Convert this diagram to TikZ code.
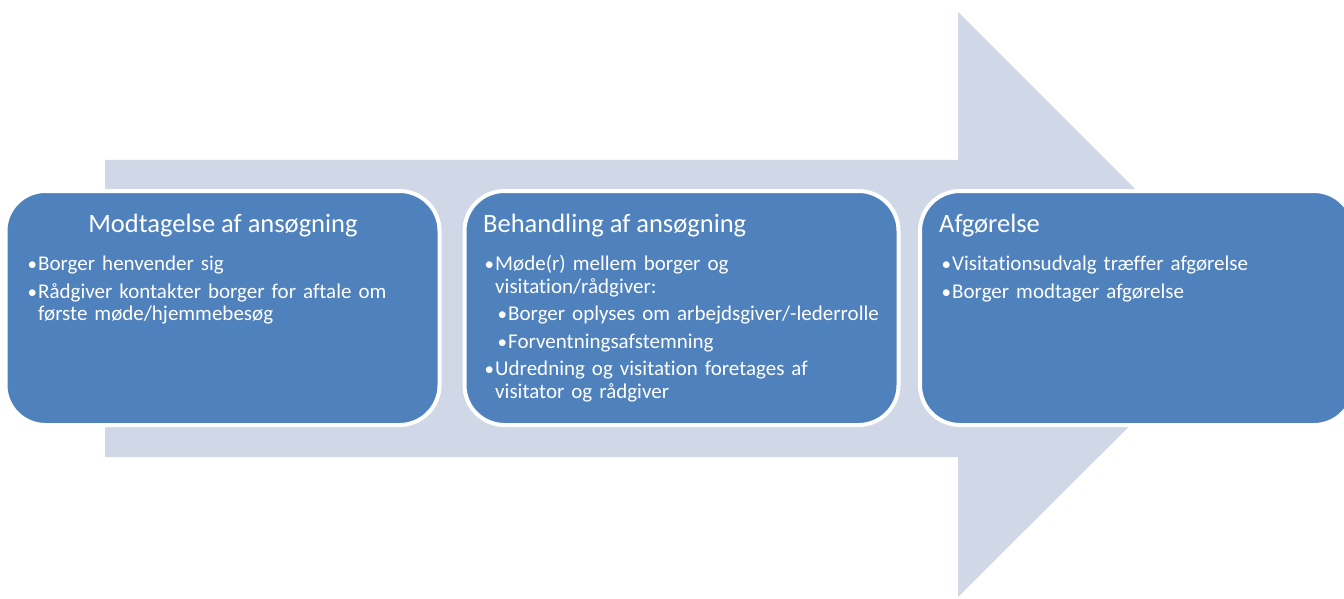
\documentclass[tikz,border=0pt]{standalone}
\usepackage{fontspec}
\setmainfont{Carlito}[Ligatures=NoCommon]
\usetikzlibrary{positioning}

\definecolor{pilblaa}{HTML}{D0D8E8}
\definecolor{kasseblaa}{HTML}{4F81BD}

\newcommand{\prik}{\makebox[11pt][l]{\hspace{0.5pt}\fontsize{19}{19}\selectfont\textbullet}}
\newcommand{\punkt}[1]{\par\leftskip=0pt\hangindent=11pt\hangafter=1\noindent\prik#1}
\newcommand{\underpunkt}[1]{\par\leftskip=13pt\hangindent=11pt\hangafter=1\noindent\prik#1}

\begin{document}
\begin{tikzpicture}[x=1pt, y=-1pt,
kasse/.style={draw=white, line width=4pt, fill=kasseblaa, rounded corners=40pt,
  inner sep=0pt, minimum width=434pt, minimum height=234pt},
titel/.style={text=white, font=\fontsize{26.5}{28}\selectfont, inner sep=0pt},
punkter/.style={text=white, font=\fontsize{21}{22.5}\selectfont, inner sep=0pt,
  text width=420pt, anchor=north west}]

    \useasboundingbox (0,0) rectangle (1344,599);

    % pilen bagved
    \fill[pilblaa] (105,160) -- (958,160) -- (958,12) -- (1251,305)
        -- (958,597) -- (958,457) -- (105,457) -- cycle;

    % kasserne
    \node[kasse] (modtag) at (222.5,308) {};
    \node[kasse] (behandl) at (681.5,308) {};
    \node[kasse] (afgoer) at (1137,308) {};

    \node[titel, anchor=base] (modtagT) at (223,232) {Modtagelse af ansøgning};
    \node[titel, anchor=base west] (behandlT) at (483,232) {Behandling af ansøgning};
    \node[titel, anchor=base west] (afgoerT) at (939,232) {Afgørelse};

    \node[punkter] (modtagP) at (27,243) {\raggedright\setlength{\parskip}{5pt}%
        \punkt{Borger henvender sig}
        \punkt{Rådgiver kontakter borger for aftale om\newline første møde/hjemmebesøg}\par};

    \node[punkter] (behandlP) at (484,243) {\raggedright\setlength{\parskip}{5pt}%
        \punkt{Møde(r) mellem borger og\newline visitation/rådgiver:}
        \underpunkt{Borger oplyses om arbejdsgiver/-lederrolle}
        \underpunkt{Forventningsafstemning}
        \punkt{Udredning og visitation foretages af\newline visitator og rådgiver}\par};

    \node[punkter] (afgoerP) at (941,243) {\raggedright\setlength{\parskip}{5pt}%
        \punkt{Visitationsudvalg træffer afgørelse}
        \punkt{Borger modtager afgørelse}\par};

\end{tikzpicture}
\end{document}
